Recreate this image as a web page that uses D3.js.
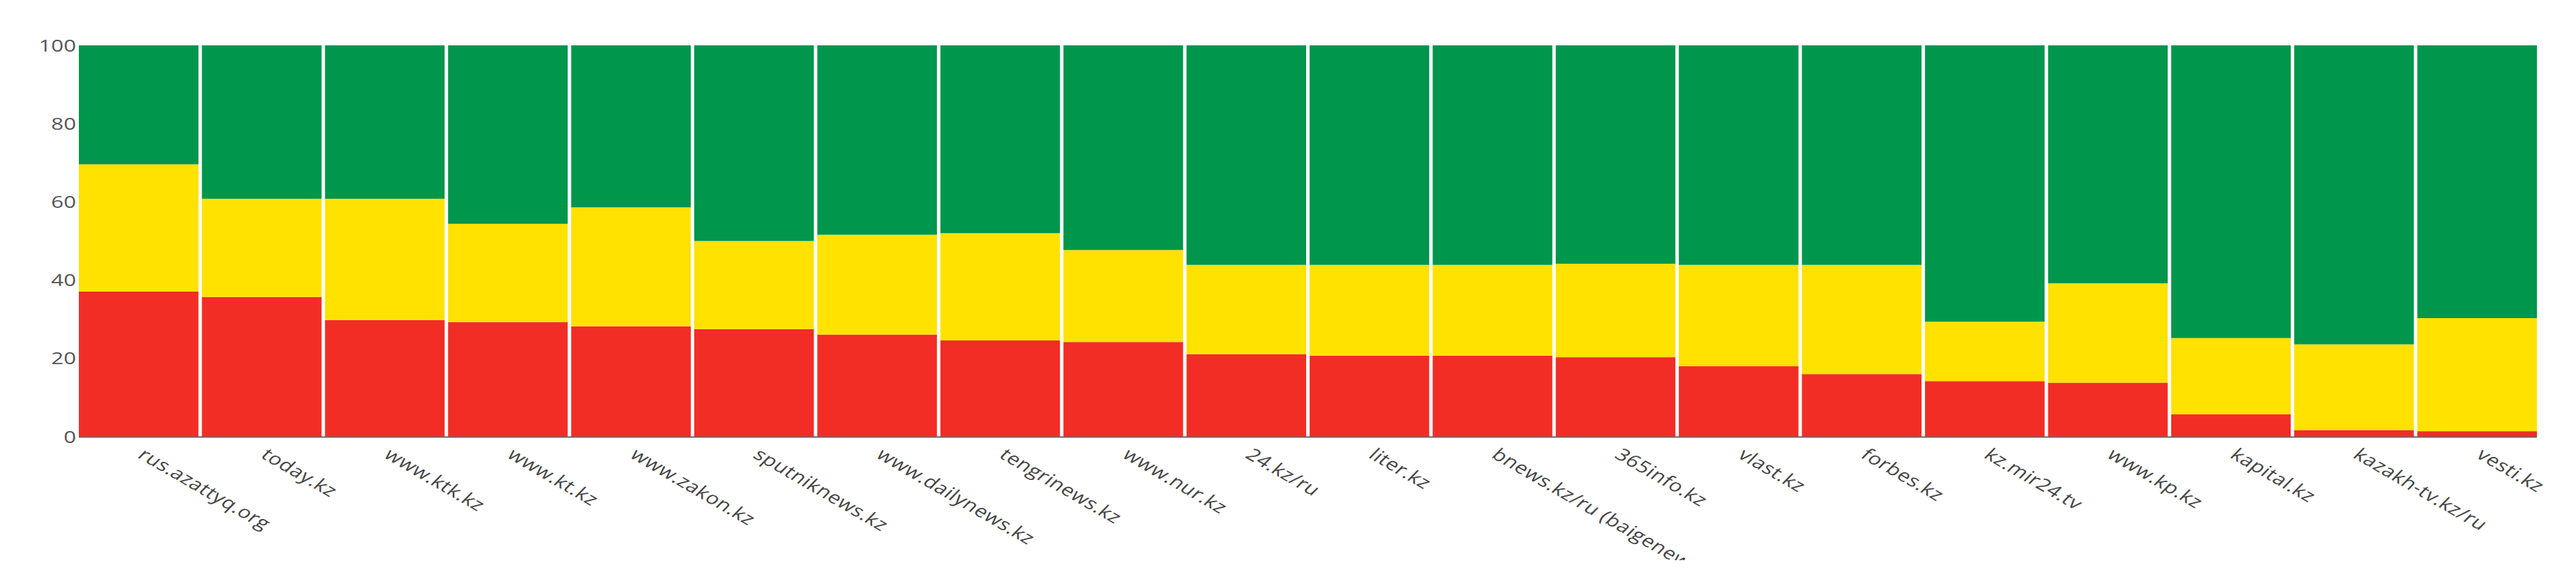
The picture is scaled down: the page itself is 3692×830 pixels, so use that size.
<!DOCTYPE html>
<html>
<head>
<meta charset="utf-8">
<script src="https://cdn.jsdelivr.net/npm/d3@7"></script>
<style>
  body { margin: 0; background: #fff; }
  svg { display: block; }
</style>
</head>
<body>
<script>
(function all (){
  //site names along the x axis
  var sites = ["rus.azattyq.org", "today.kz", "www.ktk.kz", "www.kt.kz", "www.zakon.kz",
    "sputniknews.kz", "www.dailynews.kz", "tengrinews.kz", "www.nur.kz", "24.kz/ru",
    "liter.kz", "bnews.kz/ru (baigenews.kz)", "365info.kz", "vlast.kz", "forbes.kz",
    "kz.mir24.tv", "www.kp.kz", "kapital.kz", "kazakh-tv.kz/ru", "vesti.kz"];

  //percent shares, bottom to top
  var redVals    = [37.1, 35.7, 29.8, 29.3, 28.2, 27.5, 26.1, 24.6, 24.2, 21.1, 20.7, 20.7, 20.3, 18.0, 16.0, 14.2, 13.8, 5.7, 1.7, 1.4];
  var yellowVals = [32.5, 25.1, 31.0, 25.1, 30.4, 22.5, 25.5, 27.4, 23.5, 22.8, 23.2, 23.2, 23.9, 25.9, 27.9, 15.2, 25.4, 19.5, 21.9, 28.9];
  var greenVals  = [30.4, 39.2, 39.2, 45.6, 41.4, 50.0, 48.4, 48.0, 52.3, 56.1, 56.1, 56.1, 55.8, 56.1, 56.1, 70.6, 60.8, 74.8, 76.4, 69.7];

  var yTicks = [0, 20, 40, 60, 80, 100];

  var keys = ["red", "yellow", "green"];
  var colors = { red: "#f22d26", yellow: "#ffe200", green: "#00964b" };

  //frame
  var width = 3692, height = 830;
  var left = 113, right = 3636, top = 65, bottom = 626;
  var stretch = 1.3; //text in the picture is widened

  var svg = d3.select("body").append("svg")
    .attr("width", width)
    .attr("height", height);

  //table for the stack
  var rows = sites.map(function(s, i){
    return { site: s, red: redVals[i], yellow: yellowVals[i], green: greenVals[i] };
  });

  var x = d3.scaleBand()
    .domain(sites)
    .range([left, right])
    .paddingInner(0.028)
    .paddingOuter(0);

  var y = d3.scaleLinear()
    .domain([0, 100])
    .range([bottom, top]);

  var series = d3.stack().keys(keys)(rows);

  //bars
  svg.append("g").selectAll("g")
    .data(series)
    .enter().append("g")
    .attr("fill", function(d){ return colors[d.key]; })
    .selectAll("rect")
    .data(function(d){ return d; })
    .enter().append("rect")
    .attr("x", function(d){ return x(d.data.site); })
    .attr("width", x.bandwidth())
    .attr("y", function(d){ return y(d[1]); })
    .attr("height", function(d){ return y(d[0]) - y(d[1]); });

  //baseline
  svg.append("line")
    .attr("x1", left).attr("x2", right)
    .attr("y1", y(0) + 0.5).attr("y2", y(0) + 0.5)
    .attr("stroke", "#666")
    .attr("stroke-width", 2);

  //y tick labels
  svg.append("g").selectAll("text")
    .data(yTicks)
    .enter().append("text")
    .attr("transform", function(d){ return "translate(109," + y(d) + ") scale(" + stretch + ",1)"; })
    .attr("dy", "0.36em")
    .attr("text-anchor", "end")
    .style("font-family", "'Open Sans', sans-serif")
    .style("font-size", "24px")
    .style("fill", "#555")
    .text(function(d){ return d; });

  //x labels, clipped at the bottom like the picture
  svg.append("clipPath").attr("id", "labclip")
    .append("rect")
    .attr("x", 0).attr("y", 0)
    .attr("width", width).attr("height", 803);

  var angle = Math.atan(Math.tan(30 * Math.PI / 180) * stretch) * 180 / Math.PI;

  svg.append("g")
    .attr("clip-path", "url(#labclip)")
    .selectAll("text")
    .data(sites)
    .enter().append("text")
    .attr("transform", function(d){
      var cx = x(d) + x.bandwidth() / 2 - 3;
      return "translate(" + cx + "," + (bottom + 29) + ") scale(" + stretch + ",1) rotate(" + angle + ")";
    })
    .attr("text-anchor", "start")
    .style("font-family", "'Open Sans', sans-serif")
    .style("font-size", "24px")
    .style("letter-spacing", "0.5px")
    .style("fill", "#444")
    .text(function(d){ return d; });
})();
</script>
</body>
</html>
